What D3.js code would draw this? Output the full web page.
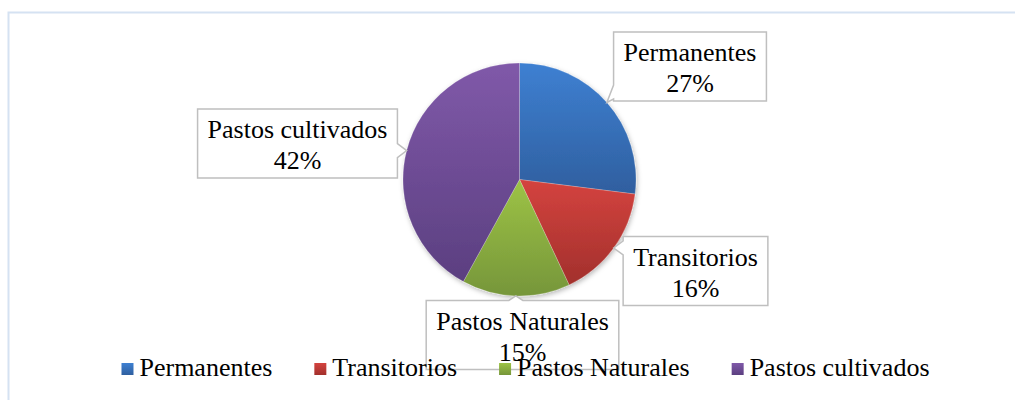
<!DOCTYPE html>
<html><head><meta charset="utf-8">
<script src="https://cdn.jsdelivr.net/npm/d3@7"></script>
<style>
html,body{margin:0;padding:0;background:#fff;}
svg{display:block;}
text{font-family:"Liberation Serif","Times New Roman",serif;fill:#000;}
</style></head>
<body>
<svg id="chart" width="1015" height="400"></svg>
<script>
// ---- data ----
const categories = ["Permanentes", "Transitorios", "Pastos Naturales", "Pastos cultivados"];
const values = [27, 16, 15, 42];
const percentLabels = ["27%", "16%", "15%", "42%"];

// ---- styles / layout ----
const colorTop = ["#3e80d2", "#d4433f", "#9dc346", "#8059a9"];
const colorBottom = ["#2f5f9f", "#a2302c", "#76963a", "#5b3f80"];
const boxCenters = [[690, 66.5], [695.5, 271], [522.5, 335], [297.5, 143.5]];
const W = 1015, H = 400;
const cx = 519.5, cy = 179.5, R = 116.5;
const fontSize = 26;

const svg = d3.select("#chart");
const defs = svg.append("defs");

// outer border
svg.append("rect").attr("x", 8.5).attr("y", 12.5).attr("width", W).attr("height", H)
  .attr("fill", "#fff").attr("stroke", "#d5e2f2").attr("stroke-width", 2);

categories.forEach((c, i) => {
  const g = defs.append("linearGradient").attr("id", "grad" + i)
    .attr("x1", 0).attr("y1", 0).attr("x2", 0).attr("y2", 1);
  g.append("stop").attr("offset", "0%").attr("stop-color", colorTop[i]);
  g.append("stop").attr("offset", "100%").attr("stop-color", colorBottom[i]);
});
const flt = defs.append("filter").attr("id", "shadow").attr("x", "-20%").attr("y", "-20%").attr("width", "140%").attr("height", "140%");
flt.append("feDropShadow").attr("dx", 1).attr("dy", 2).attr("stdDeviation", 2.5)
  .attr("flood-color", "#000").attr("flood-opacity", 0.28);

const pie = d3.pie().sort(null).value(d => d.v);
const data = categories.map((c, i) => ({ c, v: values[i], p: percentLabels[i], i }));
const arcs = pie(data);
const arc = d3.arc().innerRadius(0).outerRadius(R);

const pg = svg.append("g").attr("transform", `translate(${cx},${cy})`).attr("filter", "url(#shadow)");
pg.selectAll("path").data(arcs).join("path")
  .attr("d", arc)
  .attr("fill", d => `url(#grad${d.data.i})`)
  .attr("stroke", "rgba(255,255,255,0.35)").attr("stroke-width", 0.6);

// callout labels
const lg = svg.append("g");
arcs.forEach(a => {
  const i = a.data.i;
  const mid = (a.startAngle + a.endAngle) / 2;
  const tx = cx + R * Math.sin(mid), ty = cy - R * Math.cos(mid);
  const tmp = lg.append("text").attr("font-size", fontSize).text(a.data.c);
  const tw = tmp.node().getComputedTextLength();
  tmp.remove();
  const bw = tw + 20, bh = 69;
  const [bcx, bcy] = boxCenters[i];
  const x0 = bcx - bw / 2, y0 = bcy - bh / 2, x1 = x0 + bw, y1 = y0 + bh;
  const dl = x0 - tx, dr = tx - x1, dt = y0 - ty, db = ty - y1;
  const m = Math.max(dl, dr, dt, db);
  const hw = 7;
  const clamp = (v, lo, hi) => Math.max(lo, Math.min(hi, v));
  let pts = [];
  if (m === dt) {
    const c = clamp(tx, x0 + hw + 2, x1 - hw - 2);
    pts = [[x0, y0], [c - hw, y0], [tx, ty], [c + hw, y0], [x1, y0], [x1, y1], [x0, y1]];
  } else if (m === dr) {
    const c = clamp(ty, y0 + hw + 2, y1 - hw - 2);
    pts = [[x0, y0], [x1, y0], [x1, c - hw], [tx, ty], [x1, c + hw], [x1, y1], [x0, y1]];
  } else if (m === db) {
    const c = clamp(tx, x0 + hw + 2, x1 - hw - 2);
    pts = [[x0, y0], [x1, y0], [x1, y1], [c + hw, y1], [tx, ty], [c - hw, y1], [x0, y1]];
  } else {
    const c = clamp(ty, y0 + hw + 2, y1 - hw - 2);
    pts = [[x0, y0], [x1, y0], [x1, y1], [x0, y1], [x0, c + hw], [tx, ty], [x0, c - hw]];
  }
  lg.append("path").attr("d", d3.line()(pts) + "Z")
    .attr("fill", "#fff").attr("stroke", "#bfbfbf").attr("stroke-width", 1.5);
  lg.append("text").attr("x", bcx).attr("y", y0 + 29).attr("text-anchor", "middle")
    .attr("font-size", fontSize).text(a.data.c);
  lg.append("text").attr("x", bcx).attr("y", y0 + 60).attr("text-anchor", "middle")
    .attr("font-size", fontSize).text(a.data.p);
});

// legend
const leg = svg.append("g");
const items = [];
let x = 0;
const gap = 42, mk = 12, mgap = 6;
categories.forEach((c, i) => {
  const g = leg.append("g");
  g.append("rect").attr("x", 0).attr("y", -13).attr("width", mk).attr("height", mk)
    .attr("fill", `url(#grad${i})`);
  const t = g.append("text").attr("x", mk + mgap).attr("y", 0).attr("font-size", fontSize).text(c);
  const w = mk + mgap + t.node().getComputedTextLength();
  items.push({ g, x, w });
  x += w + gap;
});
const total = x - gap;
const lx0 = 525.5 - total / 2;
items.forEach(it => it.g.attr("transform", `translate(${lx0 + it.x},376)`));
</script>
</body></html>
